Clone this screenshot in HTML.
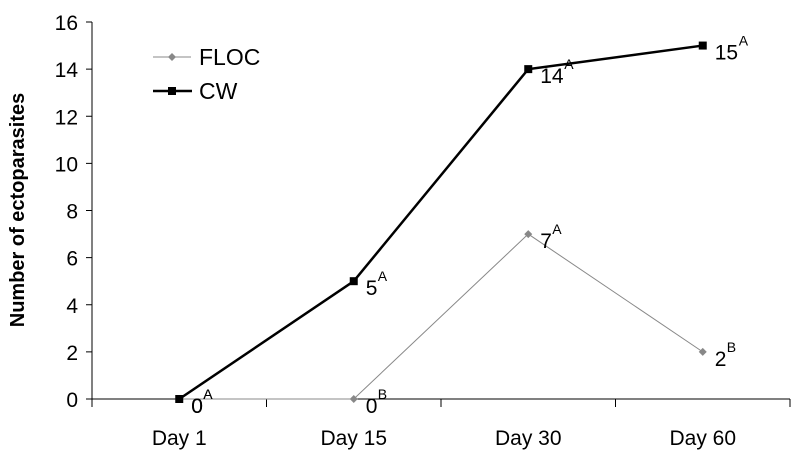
<!DOCTYPE html>
<html><head><meta charset="utf-8"><style>
body{margin:0;background:#fff}
svg text{font-family:"Liberation Sans",Arial,sans-serif}
</style></head><body>
<svg id="c" width="796" height="454"></svg>
<script>
const categories=["Day 1","Day 15","Day 30","Day 60"];
const flocValues=[0,0,7,2];
const cwValues=[0,5,14,15];
const flocLetters=["A","B","A","B"];
const cwLetters=["A","A","A","A"];
const yTicks=[0,2,4,6,8,10,12,14,16];
const svg=document.getElementById('c');
const NS='http://www.w3.org/2000/svg';
const x0=92,bw=174.5,yBase=399,yTop=22,yMax=16;
const X=i=>x0+bw*(i+0.5);
const Y=v=>yBase-(yBase-yTop)*v/yMax;
function mk(t,a,txt){const e=document.createElementNS(NS,t);for(const k in a)e.setAttribute(k,a[k]);if(txt!=null)e.textContent=txt;svg.appendChild(e);return e;}
let e;
e=mk('line',{x1:x0,y1:yTop,x2:x0,y2:yBase,stroke:'#000','stroke-width':1});

e=mk('line',{x1:x0,y1:yBase,x2:x0+bw*4,y2:yBase,stroke:'#000','stroke-width':1});

yTicks.forEach(v=>{
 e=mk('line',{x1:x0-6,y1:Y(v),x2:x0,y2:Y(v),stroke:'#000'});
 
 e=mk('text',{x:x0-14,y:Y(v)+8,'text-anchor':'end','font-size':21},v);
 
});
for(let i=0;i<=4;i++){e=mk('line',{x1:x0+bw*i,y1:yBase,x2:x0+bw*i,y2:yBase+8,stroke:'#000'});
 }
categories.forEach((c,i)=>{e=mk('text',{x:X(i),y:445,'text-anchor':'middle','font-size':21},c);
 });
e=mk('text',{x:0,y:0,transform:'translate(24,210) rotate(-90)','text-anchor':'middle','font-size':20,'font-weight':'bold'},'Number of ectoparasites');

// FLOC
e=mk('polyline',{points:flocValues.map((v,i)=>X(i)+','+Y(v)).join(' '),fill:'none',stroke:'#888','stroke-width':1});

flocValues.forEach((v,i)=>{const x=X(i),y=Y(v);
 e=mk('polygon',{points:`${x},${y-4} ${x+4},${y} ${x},${y+4} ${x-4},${y}`,fill:'#888'});
 
 e=mk('text',{x:x+12,y:y+14,'font-size':21},v);
 
 e=mk('text',{x:x+24,y:y,'font-size':14},flocLetters[i]);
 
});
// CW
e=mk('polyline',{points:cwValues.map((v,i)=>X(i)+','+Y(v)).join(' '),fill:'none',stroke:'#000','stroke-width':2.5});

cwValues.forEach((v,i)=>{const x=X(i),y=Y(v);
 e=mk('rect',{x:x-4,y:y-4,width:8,height:8,fill:'#000'});
 
 e=mk('text',{x:x+12,y:y+14,'font-size':21},v);
 
 e=mk('text',{x:x+12+(v>=10?24:12),y:y,'font-size':14},cwLetters[i]);
 
});
// legend
e=mk('line',{x1:153,y1:57,x2:191,y2:57,stroke:'#888','stroke-width':1});

e=mk('polygon',{points:'172,53 176,57 172,61 168,57',fill:'#888'});

e=mk('text',{x:199,y:65,'font-size':23},'FLOC');

e=mk('line',{x1:153,y1:91,x2:192,y2:91,stroke:'#000','stroke-width':2.5});

e=mk('rect',{x:168,y:87,width:8,height:8,fill:'#000'});

e=mk('text',{x:199,y:99,'font-size':23},'CW');

</script>
</body></html>
